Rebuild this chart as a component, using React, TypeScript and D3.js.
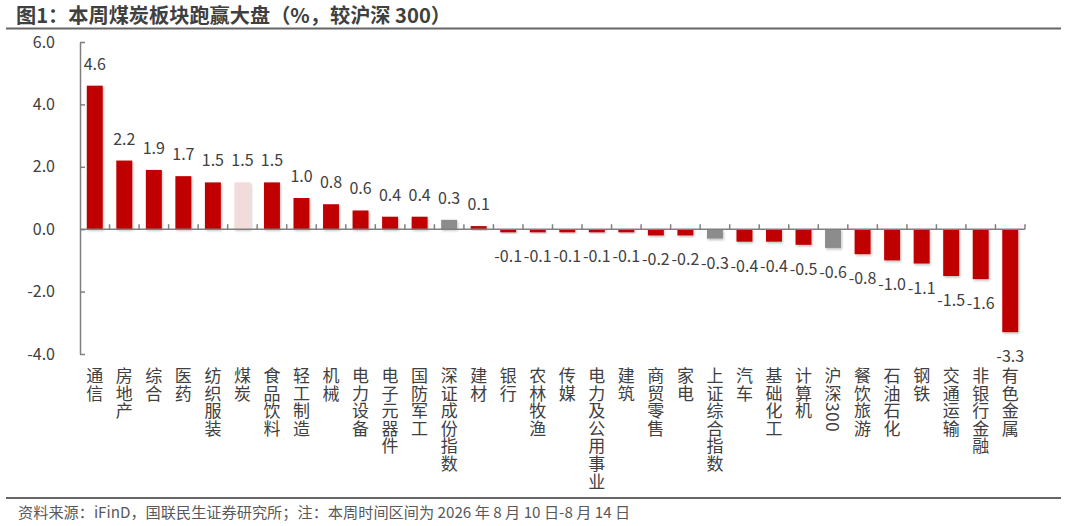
import React, { useEffect, useRef } from 'react';
import { select, scaleBand, scaleLinear, axisLeft, range } from 'd3';

const categories = [
  '通信', '房地产', '综合', '医药', '纺织服装', '煤炭', '食品饮料', '轻工制造',
  '机械', '电力设备', '电子元器件', '国防军工', '深证成份指数', '建材', '银行', '农林牧渔',
  '传媒', '电力及公用事业', '建筑', '商贸零售', '家电', '上证综合指数', '汽车', '基础化工',
  '计算机', '沪深300', '餐饮旅游', '石油石化', '钢铁', '交通运输', '非银行金融', '有色金属',
];

const values = [
  4.6, 2.2, 1.9, 1.7, 1.5, 1.5, 1.5, 1.0,
  0.8, 0.6, 0.4, 0.4, 0.3, 0.1, -0.1, -0.1,
  -0.1, -0.1, -0.1, -0.2, -0.2, -0.3, -0.4, -0.4,
  -0.5, -0.6, -0.8, -1.0, -1.1, -1.5, -1.6, -3.3,
];

const indexNames = ['深证成份指数', '上证综合指数', '沪深300'];
const highlightName = '煤炭';
const yTicks = [-4, -2, 0, 2, 4, 6];

const W = 1067;
const H = 526;
const font = '"Noto Sans CJK SC", "Noto Sans", sans-serif';
const textColor = '#404040';
const axisColor = '#7f7f7f';

function barColor(name: string) {
  if (name === highlightName) return '#f2dcdb';
  if (indexNames.includes(name)) return '#8c8c8c';
  return '#c00000';
}

export default function App() {
  const svgRef = useRef<SVGSVGElement | null>(null);

  useEffect(() => {
    const svg = select(svgRef.current);
    svg.selectAll('*').remove();

    const x = scaleBand<string>()
      .domain(categories)
      .range([80, 1025])
      .paddingInner(0.46)
      .paddingOuter(0.23);
    const y = scaleLinear().domain([-4, 6]).range([354, 42]);

    const defs = svg.append('defs');
    const f = defs.append('filter').attr('id', 'shadow')
      .attr('x', '-20%').attr('y', '-20%').attr('width', '150%').attr('height', '150%');
    f.append('feDropShadow')
      .attr('dx', 1).attr('dy', 1.5).attr('stdDeviation', 1.2)
      .attr('flood-color', '#000').attr('flood-opacity', 0.25);

    // title + rules
    svg.append('text')
      .attr('x', 16).attr('y', 23)
      .attr('font-family', font).attr('font-size', 20.2).attr('font-weight', 'bold')
      .attr('fill', textColor)
      .text('图1：本周煤炭板块跑赢大盘（%，较沪深 300）');
    svg.append('line')
      .attr('x1', 6).attr('x2', 1061).attr('y1', 28.5).attr('y2', 28.5)
      .attr('stroke', '#666').attr('stroke-width', 2);
    svg.append('line')
      .attr('x1', 6).attr('x2', 1061).attr('y1', 498).attr('y2', 498)
      .attr('stroke', '#666').attr('stroke-width', 2);
    svg.append('text')
      .attr('x', 18).attr('y', 518)
      .attr('font-family', font).attr('font-size', 15.2)
      .attr('fill', '#595959')
      .text('资料来源：iFinD，国联民生证券研究所；注：本周时间区间为 2026 年 8 月 10 日-8 月 14 日');

    // bars
    const zero = y(0);
    svg.append('g')
      .selectAll('rect')
      .data(values)
      .enter()
      .append('rect')
      .attr('x', (_, i) => x(categories[i])!)
      .attr('width', x.bandwidth())
      .attr('y', d => Math.min(y(d), zero))
      .attr('height', d => Math.abs(y(d) - zero))
      .attr('fill', (_, i) => barColor(categories[i]))
      .attr('filter', 'url(#shadow)');

    // value labels
    svg.append('g')
      .selectAll('text')
      .data(values)
      .enter()
      .append('text')
      .attr('x', (_, i) => x(categories[i])! + x.bandwidth() / 2)
      .attr('y', d => (d >= 0 ? y(d) - 16 : y(d) + 30))
      .attr('text-anchor', 'middle')
      .attr('font-family', font).attr('font-size', 16)
      .attr('fill', textColor)
      .text(d => d.toFixed(1));

    // y axis
    const yAxisG = svg.append('g')
      .attr('transform', 'translate(80,0)')
      .call(
        axisLeft(y)
          .tickValues(yTicks)
          .tickSizeInner(-5)
          .tickSizeOuter(0)
          .tickPadding(25)
          .tickFormat(d => (d as number).toFixed(1))
      );
    yAxisG.selectAll('path, line').attr('stroke', axisColor).attr('stroke-width', 1.5);
    yAxisG.selectAll('text')
      .attr('font-family', font).attr('font-size', 16).attr('fill', textColor);

    // x axis line with upward ticks at band boundaries
    const [x0, x1] = x.range();
    const xAxisG = svg.append('g');
    xAxisG.append('line')
      .attr('x1', x0).attr('x2', x1).attr('y1', zero).attr('y2', zero)
      .attr('stroke', axisColor).attr('stroke-width', 1.5);
    xAxisG.selectAll('line.tick')
      .data(range(1, categories.length + 1))
      .enter()
      .append('line')
      .attr('class', 'tick')
      .attr('x1', i => x0 + i * x.step()).attr('x2', i => x0 + i * x.step())
      .attr('y1', zero).attr('y2', zero - 5)
      .attr('stroke', axisColor).attr('stroke-width', 1.5);

    // category labels, vertical writing (digits turn sideways like the original)
    svg.append('g')
      .selectAll('text')
      .data(categories)
      .enter()
      .append('text')
      .attr('x', d => x(d)! + x.bandwidth() / 2)
      .attr('y', 367)
      .attr('font-family', font).attr('font-size', 17)
      .attr('letter-spacing', 0.6)
      .attr('fill', textColor)
      .style('writing-mode', 'vertical-rl')
      .text(d => d);
  }, []);

  return (
    <svg
      ref={svgRef}
      width={W}
      height={H}
      style={{ position: 'absolute', left: 0, top: 0, background: '#fff' }}
    />
  );
}
